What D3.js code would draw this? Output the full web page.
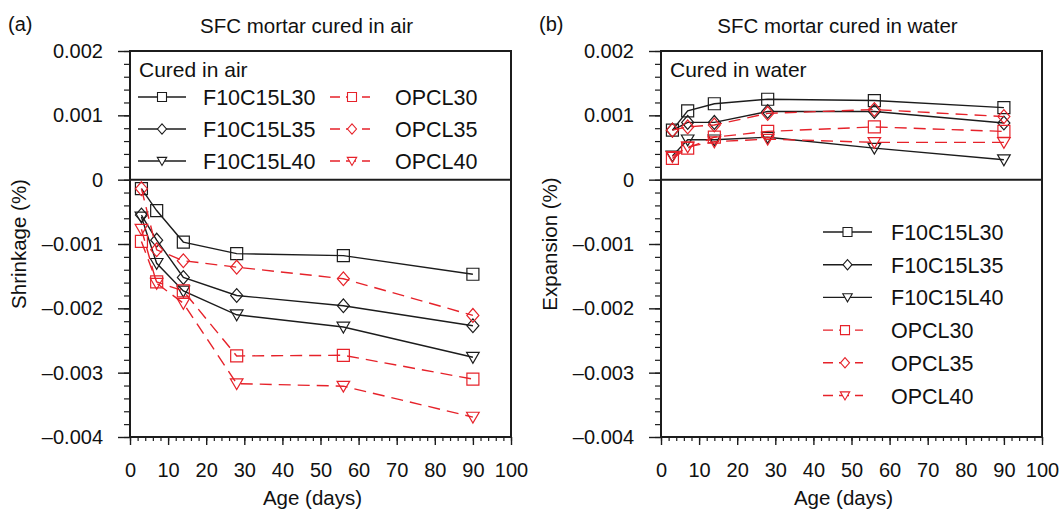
<!DOCTYPE html>
<html>
<head>
<meta charset="utf-8">
<script src="https://cdn.jsdelivr.net/npm/d3@7"></script>
<style>
  body { margin: 0; background: #fff; }
  svg text { font-family: "Liberation Sans", Arial, sans-serif; fill: #111; }
</style>
</head>
<body>
<div id="chart"></div>
<script>
const ages = [3, 7, 14, 28, 56, 90];
const seriesNames = ["F10C15L30", "F10C15L35", "F10C15L40", "OPCL30", "OPCL35", "OPCL40"];
const seriesMarkers = ["square", "diamond", "triangle", "square", "diamond", "triangle"];

// panel (a) shrinkage, cured in air
const airF30 = [-0.00014, -0.00048, -0.00097, -0.00115, -0.00118, -0.00147];
const airF35 = [-0.00055, -0.00094, -0.00152, -0.00180, -0.00196, -0.00227];
const airF40 = [-0.00058, -0.00130, -0.00173, -0.00210, -0.00229, -0.00276];
const airO30 = [-0.00096, -0.00159, -0.00173, -0.00274, -0.00273, -0.00310];
const airO35 = [-0.00014, -0.00109, -0.00126, -0.00136, -0.00154, -0.00211];
const airO40 = [-0.00077, -0.00161, -0.00192, -0.00317, -0.00321, -0.00369];

// panel (b) expansion, cured in water
const watF30 = [0.00077, 0.00107, 0.00118, 0.00125, 0.00123, 0.00112];
const watF35 = [0.00077, 0.00089, 0.00089, 0.00106, 0.00106, 0.00088];
const watF40 = [0.00037, 0.00062, 0.00062, 0.00066, 0.00049, 0.00031];
const watO30 = [0.00033, 0.00049, 0.00066, 0.00075, 0.00082, 0.00075];
const watO35 = [0.00077, 0.00082, 0.00085, 0.00103, 0.00109, 0.00098];
const watO40 = [0.00036, 0.00051, 0.00059, 0.00063, 0.00058, 0.00058];

const yTicks = [0.002, 0.001, 0, -0.001, -0.002, -0.003, -0.004];
const xTicks = [0, 10, 20, 30, 40, 50, 60, 70, 80, 90, 100];

const black = "#1c1c1c";
const red = "#e6222a";

const width = 1062, height = 514;
const plotTop = 51, plotBottom = 437, plotW = 381;

const svg = d3.select("#chart").append("svg")
    .attr("width", width)
    .attr("height", height);

function markerPath(type, s) {
    const h = s / 2;
    if (type === "square") return `M${-h},${-h}H${h}V${h}H${-h}Z`;
    if (type === "diamond") return `M0,${-h * 1.15}L${h},0L0,${h * 1.15}L${-h},0Z`;
    return `M${-h * 1.05},${-h * 0.8}H${h * 1.05}L0,${h * 1.0}Z`;
}

function fmt(v) {
    if (v === 0) return "0";
    return (v < 0 ? "\u20130" : "0") + d3.format(".3f")(Math.abs(v)).slice(1);
}

function drawPanel(cfg) {
    const g = svg.append("g");
    const x = d3.scaleLinear().domain([0, 100]).range([cfg.left, cfg.left + plotW]);
    const y = d3.scaleLinear().domain([-0.004, 0.002]).range([plotBottom, plotTop]);

    // minor y ticks
    g.append("g")
        .attr("transform", `translate(${cfg.left},0)`)
        .call(d3.axisLeft(y).tickValues(d3.range(-20, 11).map(d => d * 0.0002)).tickSize(6).tickFormat(""))
        .call(a => a.select(".domain").remove())
        .call(a => a.selectAll("line").attr("stroke", black).attr("stroke-width", 1.2));
    // major y ticks
    g.append("g")
        .attr("transform", `translate(${cfg.left},0)`)
        .call(d3.axisLeft(y).tickValues(yTicks).tickSize(12).tickPadding(15).tickFormat(fmt))
        .call(a => a.select(".domain").remove())
        .call(a => a.selectAll("line").attr("stroke", black).attr("stroke-width", 1.4))
        .call(a => a.selectAll("text").style("font-size", "20px").attr("fill", "#111"));

    // minor x ticks
    g.append("g")
        .attr("transform", `translate(0,${plotBottom})`)
        .call(d3.axisBottom(x).tickValues(d3.range(0, 101, 2)).tickSize(4).tickFormat(""))
        .call(a => a.select(".domain").remove())
        .call(a => a.selectAll("line").attr("stroke", black).attr("stroke-width", 1.2));
    // major x ticks
    g.append("g")
        .attr("transform", `translate(0,${plotBottom})`)
        .call(d3.axisBottom(x).tickValues(xTicks).tickSize(8).tickPadding(18))
        .call(a => a.select(".domain").remove())
        .call(a => a.selectAll("line").attr("stroke", black).attr("stroke-width", 1.4))
        .call(a => a.selectAll("text").style("font-size", "20px").attr("fill", "#111"));

    // plot frame
    g.append("rect")
        .attr("x", cfg.left).attr("y", plotTop)
        .attr("width", plotW).attr("height", plotBottom - plotTop)
        .attr("fill", "none").attr("stroke", black).attr("stroke-width", 2);

    // zero line
    g.append("line")
        .attr("x1", cfg.left).attr("x2", cfg.left + plotW)
        .attr("y1", y(0)).attr("y2", y(0))
        .attr("stroke", black).attr("stroke-width", 2);

    // series
    const line = d3.line().x((d, i) => x(ages[i])).y(d => y(d));
    cfg.series.forEach((vals, k) => {
        const col = k < 3 ? black : red;
        g.append("path")
            .datum(vals)
            .attr("d", line)
            .attr("fill", "none")
            .attr("stroke", col)
            .attr("stroke-width", 1.4)
            .attr("stroke-dasharray", k < 3 ? null : "12,7");
        g.selectAll(null)
            .data(vals)
            .enter()
            .append("path")
            .attr("transform", (d, i) => `translate(${x(ages[i])},${y(d)})`)
            .attr("d", markerPath(seriesMarkers[k], 12))
            .attr("fill", "none")
            .attr("stroke", col)
            .attr("stroke-width", 1.2);
    });

    // legend
    g.append("text")
        .attr("x", cfg.left + 9).attr("y", plotTop + 26)
        .style("font-size", "21px")
        .text(cfg.legendTitle);
    seriesNames.forEach((name, k) => {
        const p = cfg.legendPos(k);
        const col = k < 3 ? black : red;
        g.append("line")
            .attr("x1", p.x).attr("x2", p.x + p.len)
            .attr("y1", p.y).attr("y2", p.y)
            .attr("stroke", col).attr("stroke-width", 1.4)
            .attr("stroke-dasharray", k < 3 ? null : "10,6");
        g.append("path")
            .attr("transform", `translate(${p.x + p.len / 2 + (k < 3 ? 0 : 2)},${p.y})`)
            .attr("d", markerPath(seriesMarkers[k], 9))
            .attr("fill", "#fff")
            .attr("stroke", col)
            .attr("stroke-width", 1.1);
        g.append("text")
            .attr("x", p.tx).attr("y", p.y + 8)
            .style("font-size", "21.5px")
            .text(name);
    });

    // titles
    g.append("text")
        .attr("x", cfg.left + plotW / 2 - 14).attr("y", 33)
        .attr("text-anchor", "middle")
        .style("font-size", "20.5px")
        .text(cfg.title);
    g.append("text")
        .attr("x", cfg.left - 122).attr("y", 31)
        .style("font-size", "20px")
        .text(cfg.tag);
    g.append("text")
        .attr("transform", `translate(${cfg.left - 104},${(plotTop + plotBottom) / 2}) rotate(-90)`)
        .attr("text-anchor", "middle")
        .style("font-size", "20.5px")
        .text(cfg.yTitle);
    g.append("text")
        .attr("x", cfg.left + plotW / 2 - 8).attr("y", 505)
        .attr("text-anchor", "middle")
        .style("font-size", "20.5px")
        .text("Age (days)");
}

drawPanel({
    left: 130,
    tag: "(a)",
    title: "SFC mortar cured in air",
    yTitle: "Shrinkage (%)",
    legendTitle: "Cured in air",
    series: [airF30, airF35, airF40, airO30, airO35, airO40],
    legendPos: k => ({
        x: k < 3 ? 138 : 330,
        len: k < 3 ? 48 : 40,
        tx: k < 3 ? 203 : 395,
        y: 97 + (k % 3) * 32
    })
});

drawPanel({
    left: 661,
    tag: "(b)",
    title: "SFC mortar cured in water",
    yTitle: "Expansion (%)",
    legendTitle: "Cured in water",
    series: [watF30, watF35, watF40, watO30, watO35, watO40],
    legendPos: k => ({
        x: 823,
        len: k < 3 ? 49 : 40,
        tx: 891,
        y: 232 + k * 32.7
    })
});
</script>
</body>
</html>
